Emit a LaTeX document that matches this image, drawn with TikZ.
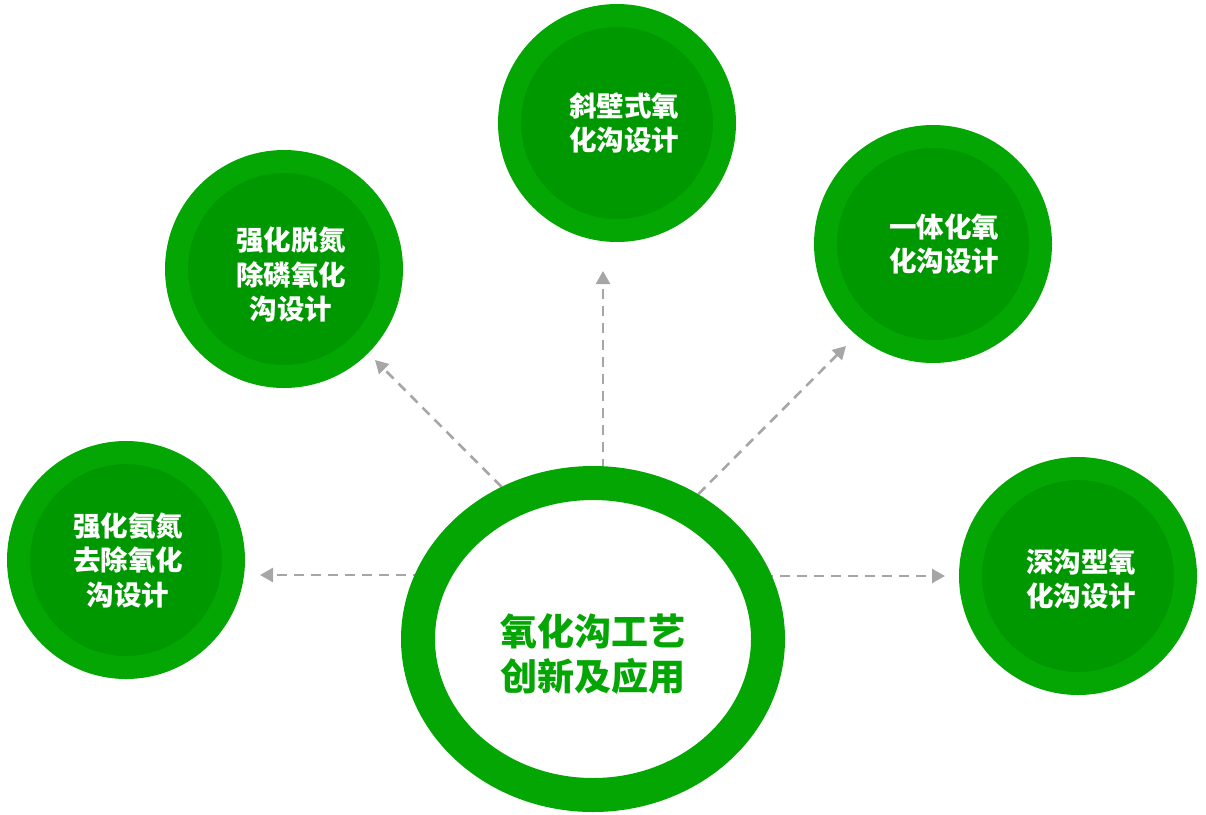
\documentclass[tikz,border=0pt]{standalone}
\usepackage{fontspec}
\newfontfamily\cjk{Noto Sans CJK SC}
\usetikzlibrary{shapes.geometric,arrows.meta,backgrounds}
\definecolor{ringgreen}{RGB}{3,166,3}
\definecolor{coregreen}{RGB}{0,152,0}
\definecolor{linkgray}{RGB}{166,166,166}
\tikzset{
	ring/.style={draw=ringgreen, fill=coregreen, circle, minimum size=215pt, line width=23pt, inner sep=0pt},
	tag/.style={text=white, font=\cjk\bfseries\fontsize{27.5}{34.5}\selectfont, align=center, inner sep=0pt},
	link/.style={draw=linkgray, line width=2.6pt, dash pattern=on 10pt off 7pt, -{Triangle[length=13pt,width=14pt]}}
}
\begin{document}
\begin{tikzpicture}[x=1pt, y=-1pt]
		\useasboundingbox (0,0) rectangle (1206,814);

		\node[ring] (n1) at (126,560) {};
		\node[ring] (n2) at (284,269) {};
		\node[ring] (n3) at (617,123) {};
		\node[ring] (n4) at (933,244) {};
		\node[ring] (n5) at (1078,576) {};

		\node[tag] (n1t) at ([xshift=2pt]n1.center) {强化氨氮\\去除氧化\\沟设计};
		\node[tag] (n2t) at ([xshift=7pt, yshift=-6pt]n2.center) {强化脱氮\\除磷氧化\\沟设计};
		\node[tag] (n3t) at ([xshift=7pt]n3.center) {斜壁式氧\\化沟设计};
		\node[tag] (n4t) at ([xshift=11pt]n4.center) {一体化氧\\化沟设计};
		\node[tag] (n5t) at ([xshift=3pt, yshift=-3pt]n5.center) {深沟型氧\\化沟设计};

		\node[draw=ringgreen, fill=white, ellipse, line width=34pt, minimum width=350pt, minimum height=312pt] (core) at (593,639) {};
		\node[text=ringgreen, font=\cjk\bfseries\fontsize{37}{45}\selectfont, align=center, inner sep=0pt] (coret) at ([yshift=-15pt]core.center) {氧化沟工艺\\创新及应用};

		\coordinate (t1) at (260,575);
		\coordinate (t2) at (375,360);
		\coordinate (t3) at (603,271);
		\coordinate (t4) at (846,346);
		\coordinate (t5) at (945,576);

		\begin{scope}[on background layer]
			\draw[link] (t1 -| core.center) -- (t1);
			\draw[link] (core.121) -- (t2);
			\draw[link] (t3 |- core.center) -- (t3);
			\draw[link] (core.54) -- (t4);
			\draw[link] (t5 -| core.center) -- (t5);
		\end{scope}
	\end{tikzpicture}
\end{document}
